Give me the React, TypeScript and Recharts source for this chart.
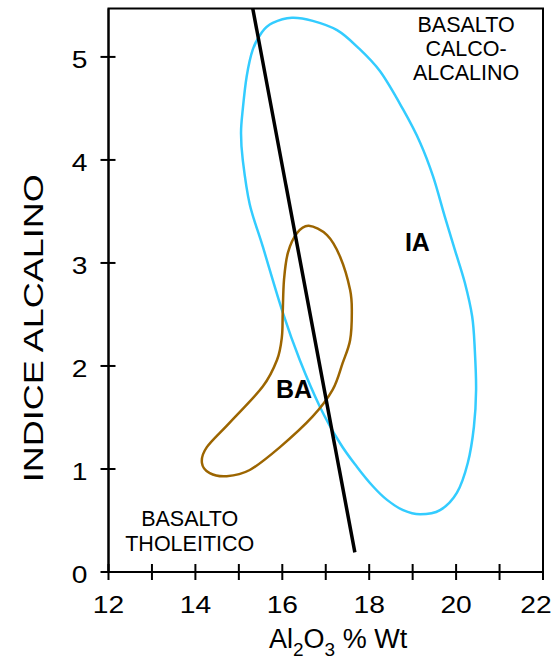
import { LineChart, Line, XAxis, YAxis, ReferenceArea, ReferenceDot } from 'recharts';

// axis ticks
const X_TICKS = [12, 13, 14, 15, 16, 17, 18, 19, 20, 21, 22];
const Y_TICKS = [0, 1, 2, 3, 4, 5];
const Y_MAX = 5.47;

// IA field (closed outline, clockwise from the top)
const IA_X = [16.22, 16.70, 17.26, 17.72, 18.25, 18.78, 19.17, 19.47, 19.74, 19.97, 20.20, 20.37, 20.43, 20.46, 20.41, 20.27, 20.02, 19.63, 19.17, 18.78, 18.41, 18.09, 17.72, 17.33, 16.87, 16.40, 16.01, 15.55, 15.25, 15.09, 15.05, 15.09, 15.18, 15.32, 15.53, 15.78];
const IA_Y = [5.38, 5.35, 5.26, 5.10, 4.86, 4.49, 4.17, 3.84, 3.45, 3.13, 2.81, 2.48, 2.16, 1.77, 1.41, 1.06, 0.77, 0.60, 0.56, 0.60, 0.70, 0.83, 1.02, 1.25, 1.60, 2.06, 2.52, 3.16, 3.57, 4.00, 4.26, 4.49, 4.81, 5.07, 5.24, 5.33];

// BA field (closed outline)
const BA_X = [16.61, 17.03, 17.33, 17.56, 17.60, 17.56, 17.39, 17.16, 16.70, 15.94, 15.25, 14.72, 14.33, 14.15, 14.26, 14.79, 15.55, 15.88, 15.99, 16.01, 16.04, 16.13, 16.34];
const BA_Y = [3.36, 3.27, 3.06, 2.74, 2.52, 2.25, 2.03, 1.77, 1.51, 1.21, 0.99, 0.93, 0.96, 1.06, 1.21, 1.45, 1.80, 2.06, 2.28, 2.52, 2.84, 3.10, 3.29];

// tholeiitic / calc-alkaline divider
const DIV_X = [15.32, 17.67];
const DIV_Y = [5.47, 0.19];

const zip = (xs: number[], ys: number[]) => xs.map((x, i) => ({ x, y: ys[i] }));
const iaData = zip(IA_X, IA_Y);
const baData = zip(BA_X, BA_Y);
const divData = zip(DIV_X, DIV_Y);

const FONT = '"Liberation Sans", Arial, Helvetica, sans-serif';

// closed catmull-rom curve factory (d3 style) for the field outlines
function closedSmooth(context: any) {
  let pts: number[][] = [];
  return {
    areaStart() {},
    areaEnd() {},
    lineStart() { pts = []; },
    point(x: number, y: number) { pts.push([x, y]); },
    lineEnd() {
      const n = pts.length;
      if (!n) return;
      context.moveTo(pts[0][0], pts[0][1]);
      for (let i = 0; i < n; i++) {
        const p0 = pts[(i - 1 + n) % n];
        const p1 = pts[i];
        const p2 = pts[(i + 1) % n];
        const p3 = pts[(i + 2) % n];
        context.bezierCurveTo(
          p1[0] + (p2[0] - p0[0]) / 6, p1[1] + (p2[1] - p0[1]) / 6,
          p2[0] - (p3[0] - p1[0]) / 6, p2[1] - (p3[1] - p1[1]) / 6,
          p2[0], p2[1]
        );
      }
      context.closePath();
    },
  };
}

const XTick = ({ x, y, payload }: any) => {
  // last label is nudged left so it stays inside the page
  const shift = payload.value === 22 ? -7 : 0;
  return (
    <g>
      <line x1={x} x2={x} y1={y - 8} y2={y + 8} stroke="#000" strokeWidth={2} />
      {payload.value % 2 === 0 && (
        <text transform={`translate(${x + shift},${y + 41}) scale(1.2,1)`} textAnchor="middle" fontSize={23.5} fontFamily={FONT} fill="#000">
          {payload.value}
        </text>
      )}
    </g>
  );
};

const YTick = ({ x, y, payload }: any) => (
  <g>
    <line x1={x - 8} x2={x + 7} y1={y} y2={y} stroke="#000" strokeWidth={2} />
    <text transform={`translate(${x - 21},${y + 11}) scale(1.2,1)`} textAnchor="end" fontSize={23.5} fontFamily={FONT} fill="#000">
      {payload.value}
    </text>
  </g>
);

const XTitle = ({ viewBox }: any) => (
  <text x={viewBox.x + 160.5} y={viewBox.y + 76} fontSize={27} fontFamily={FONT} fill="#000">
    Al<tspan fontSize={19} dy={8}>2</tspan>
    <tspan dy={-8}>O</tspan>
    <tspan fontSize={19} dy={8}>3</tspan>
    <tspan dy={-8}>{' % Wt'}</tspan>
  </text>
);

const YTitle = ({ viewBox }: any) => {
  const cx = viewBox.x + 34.5;
  const cy = viewBox.y + viewBox.height / 2 + 38;
  return (
    <text transform={`translate(${cx},${cy}) rotate(-90)`} textAnchor="middle" fontSize={27} fontFamily={FONT} fill="#000" textLength={308} lengthAdjust="spacingAndGlyphs">
      INDICE ALCALINO
    </text>
  );
};

// multi-line annotation centred on a data point
const note = (lines: string[], size: number, bold: boolean, gap: number) => ({ viewBox }: any) => {
  const cx = viewBox.x + viewBox.width / 2;
  const cy = viewBox.y + viewBox.height / 2;
  const first = cy - ((lines.length - 1) * gap) / 2;
  return (
    <text textAnchor="middle" fontSize={size} fontWeight={bold ? 'bold' : 'normal'} fontFamily={FONT} fill="#000">
      {lines.map((t, i) => (
        <tspan key={i} x={cx} y={first + i * gap + size * 0.358}>{t}</tspan>
      ))}
    </text>
  );
};

export default function App() {
  return (
    <div style={{ position: 'absolute', left: 0, top: 0 }}>
      <LineChart width={554} height={661} margin={{ top: 8.5, right: 11, bottom: 9, left: 8.5 }}>
        <XAxis
          type="number"
          dataKey="x"
          domain={[12, 22]}
          ticks={X_TICKS}
          allowDataOverflow
          height={80}
          tickSize={0}
          tickMargin={0}
          tickLine={false}
          tick={<XTick />}
          axisLine={{ stroke: '#000', strokeWidth: 2 }}
          label={{ content: XTitle }}
        />
        <YAxis
          type="number"
          dataKey="y"
          domain={[0, Y_MAX]}
          ticks={Y_TICKS}
          allowDataOverflow
          width={100}
          tickSize={0}
          tickMargin={0}
          tickLine={false}
          tick={<YTick />}
          axisLine={{ stroke: '#000', strokeWidth: 2 }}
          label={{ content: YTitle }}
        />
        <ReferenceArea x1={12} x2={22} y1={0} y2={Y_MAX} fill="none" fillOpacity={0} stroke="#000" strokeWidth={2} />
        <Line data={iaData} dataKey="y" type={closedSmooth as any} stroke="#33ccff" strokeWidth={2.5} dot={false} activeDot={false} isAnimationActive={false} />
        <Line data={baData} dataKey="y" type={closedSmooth as any} stroke="#9c6500" strokeWidth={2.5} dot={false} activeDot={false} isAnimationActive={false} />
        <Line data={divData} dataKey="y" type="linear" stroke="#000" strokeWidth={3.5} dot={false} activeDot={false} isAnimationActive={false} />
        <ReferenceDot x={19.11} y={3.2} r={0} stroke="none" label={{ content: note(['IA'], 25, true, 0) }} />
        <ReferenceDot x={16.27} y={1.78} r={0} stroke="none" label={{ content: note(['BA'], 25, true, 0) }} />
        <ReferenceDot x={20.23} y={5.08} r={0} stroke="none" label={{ content: note(['BASALTO', 'CALCO-', 'ALCALINO'], 21.5, false, 24) }} />
        <ReferenceDot x={13.87} y={0.4} r={0} stroke="none" label={{ content: note(['BASALTO', 'THOLEITICO'], 21.5, false, 25) }} />
      </LineChart>
    </div>
  );
}
